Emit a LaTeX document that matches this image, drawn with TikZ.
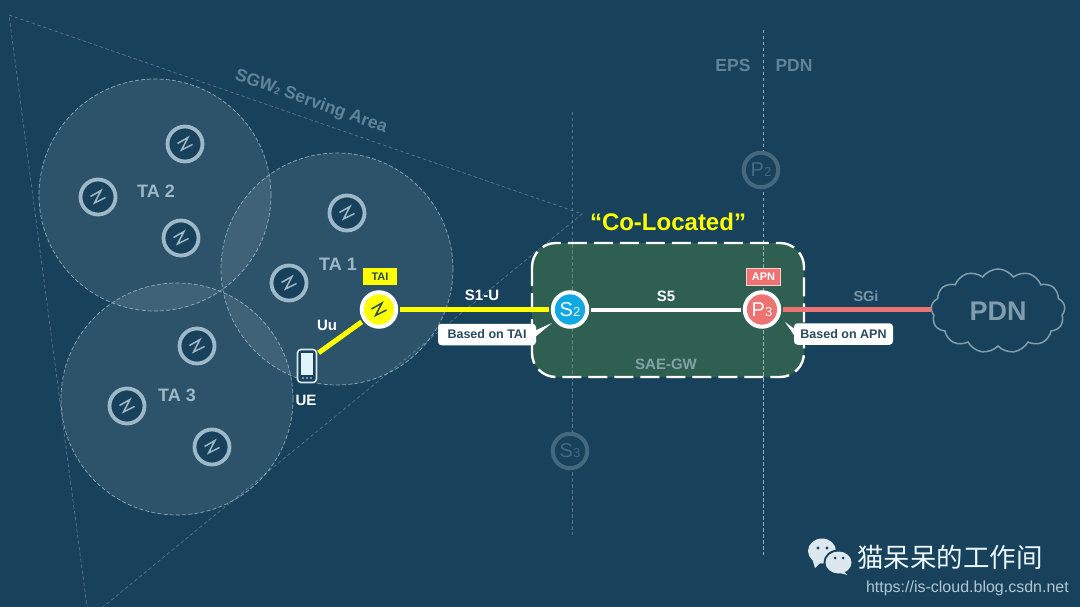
\documentclass[tikz,border=0pt]{standalone}
\usepackage{fontspec}
\setmainfont{Liberation Sans}
\newfontfamily\cjkfont{Noto Sans CJK SC}
\usetikzlibrary{shapes.symbols}
\definecolor{bgc}{HTML}{18425C}
\definecolor{ringc}{HTML}{9DB8C6}
\definecolor{dimc}{HTML}{5F8499}
\definecolor{dimring}{HTML}{44697F}
\definecolor{boxg}{HTML}{2F5F50}
\definecolor{yel}{HTML}{FFFF00}
\definecolor{sky}{HTML}{10A8E4}
\definecolor{sal}{HTML}{EE7272}
\definecolor{textd}{HTML}{2A4A60}
\definecolor{icon}{HTML}{DDE8EE}
\tikzset{
  x=1pt,y=-1pt,
  tacell/.style={circle,minimum size=232pt,inner sep=0pt,fill=white,fill opacity=.09,draw=ringc,draw opacity=.85,dash pattern=on 4pt off 2.2pt,line width=.7pt},
  enb/.style={circle,minimum size=35pt,inner sep=0pt,draw=ringc,line width=3.8pt,fill=bgc},
  lab/.style={font=\bfseries\fontsize{18}{18}\selectfont,text=ringc,inner sep=0pt},
  wlab/.style={font=\bfseries\fontsize{15}{15}\selectfont,text=white,inner sep=0pt},
  dimlab/.style={font=\bfseries\fontsize{17.5}{17.5}\selectfont,text=dimc,inner sep=0pt},
  bdash/.style={draw=ringc,line width=.7pt,dash pattern=on 3.5pt off 2.5pt},
  gw/.style={circle,minimum size=34.5pt,inner sep=0pt,draw=white,line width=4pt,text=white,font=\fontsize{20}{20}\selectfont},
  dimgw/.style={circle,minimum size=34.5pt,inner sep=0pt,draw=dimring,line width=4pt,fill=bgc,text=dimring,font=\fontsize{20}{20}\selectfont},
  tagbox/.style={rounded corners=3.5pt,fill=white,text=textd,font=\bfseries\fontsize{12.5}{12.5}\selectfont,inner sep=0pt,minimum height=21.5pt},
  tinytag/.style={inner sep=0pt,minimum height=16.5pt,minimum width=34pt,font=\bfseries\fontsize{11}{11}\selectfont},
  link/.style={line width=5pt,shorten <=2pt,shorten >=2pt},
}
\newcommand{\zmark}[2]{\draw[#2,line width=1.5pt,line join=miter] ([shift={(-7.5,-0.5)}]#1.center) -- ([shift={(3,-6.5)}]#1.center) -- ([shift={(-3.5,6)}]#1.center) -- ([shift={(7.5,0.5)}]#1.center);}
\newcommand{\subn}[1]{{\fontsize{13}{13}\selectfont #1}}
\begin{document}
\begin{tikzpicture}
\useasboundingbox (0,0) rectangle (1080,607);
\fill[bgc] (0,0) rectangle (1080,607);
\begin{scope}
\clip (0,0) rectangle (1080,607);
\coordinate (t1) at (9,15);
\coordinate (t2) at (582,214);
\coordinate (t3) at (88.6,618.8);
\draw[bdash,draw opacity=.45] (t1) -- (t2) -- (t3) -- cycle;
\end{scope}
% boundary lines
\coordinate (v1a) at (572,112);
\coordinate (v1b) at (572,535);
\coordinate (v2a) at (763,30);
\coordinate (v2b) at (763,555);
% cells
\node[tacell] (c2) at (155,195) {};
\node[tacell] (c3) at (177,399) {};
\node[tacell] (c1) at (337,269) {};
\node[lab] at (156,191) {TA 2};
\node[lab] at (177,395) {TA 3};
\node[lab] at (338,264) {TA 1};
\node[font=\bfseries\fontsize{17.5}{17.5}\selectfont,text=dimc,rotate=-19.5,inner sep=0pt] at (311,102) {SGW{\fontsize{10}{10}\selectfont 2} Serving Area};
% gateway box
\fill[boxg,rounded corners=24pt] (532,243) rectangle (804,377);
\draw[bdash,draw opacity=.45] (v1a) -- (v1b);
\draw[bdash,draw opacity=.9] (v2a) -- (v2b);
\draw[white,line width=2.4pt,dash pattern=on 19pt off 7pt,rounded corners=24pt] (532,243) rectangle (804,377);
% dim nodes
\node[dimgw] (p2) at (761,170) {P\subn{2}};
\node[dimgw] (s3) at (570,451) {S\subn{3}};
\node[dimlab] at (733,65) {EPS};
\node[dimlab] at (794,65) {PDN};
% eNodeBs
\foreach \n/\x/\y in {e1/185/144,e2/98/197,e3/181/238,e4/347/213,e5/289/283,e6/197/346,e7/127/406,e8/212/447}{
  \node[enb] (\n) at (\x,\y) {};
  \zmark{\n}{ringc}
}
% main nodes
\node[gw,fill=yel] (enb) at (379,309.5) {};
\zmark{enb}{textd}
\node[gw,fill=sky] (s2) at (570,309.5) {S\subn{2}};
\node[gw,fill=sal] (p3) at (762,309.5) {P\subn{3}};
% PDN cloud
\node[cloud,cloud puffs=13,cloud puff arc=110,aspect=1.9,draw=dimc!80!white,line width=1.5pt,minimum width=134pt,minimum height=84pt,inner sep=0pt,font=\bfseries\fontsize{27}{27}\selectfont,text=dimc!80!white] (pdn) at (998,311) {PDN};
\coordinate (uetop) at (317,354);
\draw[yel,link] (s2) -- (enb);
\draw[white,link,line width=4pt] (s2) -- (p3);
\draw[sal,link,shorten >=0pt] (p3) -- (p3 -| pdn.west);
\draw[yel,link] (uetop) -- (enb);
\node[wlab] at (482,295) {S1-U};
\node[wlab] at (666,296) {S5};
\node[font=\bfseries\fontsize{14.5}{14.5}\selectfont,text=dimc!85!white,inner sep=0pt] at (866,296) {SGi};
\node[wlab] at (327,325) {Uu};
\node[wlab] at (306,400) {UE};
\node[font=\fontsize{15}{15}\selectfont\bfseries,text=ringc!75!boxg,inner sep=0pt] at (666,364) {SAE-GW};
\node[font=\bfseries\fontsize{24}{24}\selectfont,text=yel,inner sep=0pt] at (668,222) {“Co-Located”};
% tags
\node[tinytag,fill=yel,text=textd] (taitag) at (380,276.5) {TAI};
\node[tinytag,fill=sal,text=white,draw=white!65!sal,line width=.6pt] (apntag) at (763.5,277) {APN};
\fill[white] (534,331) -- (552,323) -- (534,338) -- cycle;
\fill[white] (796,330) -- (785,322) -- (796,338) -- cycle;
\node[tagbox,minimum width=98pt] (tagt) at (487,334.5) {Based on TAI};
\node[tagbox,minimum width=99pt] (taga) at (843.5,334) {Based on APN};
% UE phone
\draw[fill=bgc,draw=icon,line width=1.6pt,rounded corners=3.5pt] (297.5,349.5) rectangle (316.5,382.5);
\fill[white!88!sky] (301,353) rectangle (313,375);
\fill[icon] (303,378) circle (.8) (307,378) circle (.8) (311,378) circle (.8);
% watermark
\fill[icon] (822,551) ellipse (14 and 12.5);
\fill[icon] (812,558) -- (815,568) -- (822,561) -- cycle;
\fill[bgc] (838.5,562.5) ellipse (15 and 13);
\fill[icon] (838.5,562.5) ellipse (13 and 11);
\fill[icon] (842,570) -- (847.5,575) -- (836,572) -- cycle;
\fill[bgc] (818,548) circle (1.7) (827,548) circle (1.7) (835,558) circle (1.5) (843,558) circle (1.5);
\node[font=\cjkfont\fontsize{26.5}{26.5}\selectfont,text=white!92!sky,inner sep=0pt,anchor=west] at (857,557) {猫呆呆的工作间};
\node[font=\fontsize{16}{16}\selectfont,text=ringc!80!white,inner sep=0pt,anchor=east] at (1069,588) {https://is-cloud.blog.csdn.net};
\end{tikzpicture}
\end{document}
